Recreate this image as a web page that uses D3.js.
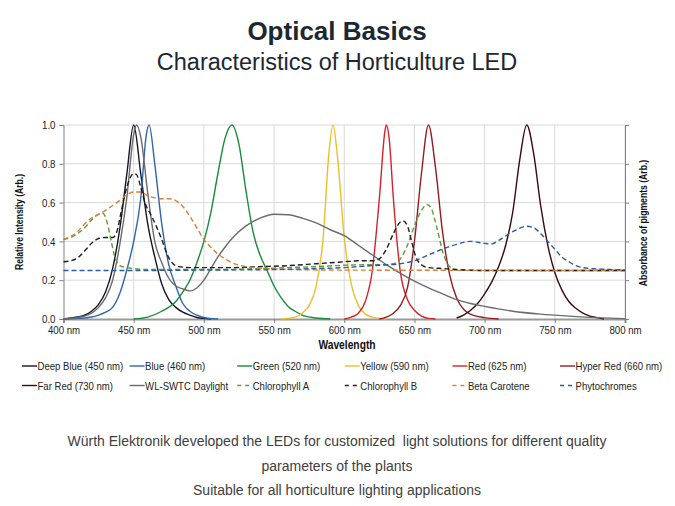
<!DOCTYPE html>
<html><head><meta charset="utf-8">
<script src="https://cdn.jsdelivr.net/npm/d3@7/dist/d3.min.js"></script>
<style>
body{margin:0;background:#fff;}
text{font-family:"Liberation Sans",Arial,sans-serif;}
</style></head><body>
<svg id="c" width="675" height="506"></svg>
<script>
// ---------- data ----------
const xTicks=[400,450,500,550,600,650,700,750,800];
const yTicks=[0,0.2,0.4,0.6,0.8,1.0];
const seriesNames=["Deep Blue (450 nm)","Blue (460 nm)","Green (520 nm)","Yellow (590 nm)","Red (625 nm)","Hyper Red (660 nm)","Far Red (730 nm)","WL-SWTC Daylight","Chlorophyll A","Chlorophyll B","Beta Carotene","Phytochromes"];
const deepBlue=[[400,0],[405,0.005],[410,0.01],[415,0.02],[420,0.04],[425,0.075],[430,0.14],[435,0.26],[440,0.46],[445,0.74],[450,1.0],[455,0.75],[460,0.49],[465,0.32],[470,0.18],[475,0.1],[480,0.06],[485,0.035],[490,0.02],[495,0.008],[500,0.003],[505,0]];
const blue=[[400,0],[410,0.003],[420,0.01],[425,0.02],[430,0.035],[435,0.06],[440,0.13],[445,0.25],[450,0.4],[455,0.62],[459,0.95],[461,1.0],[465,0.8],[470,0.49],[475,0.28],[480,0.17],[485,0.08],[490,0.04],[495,0.02],[500,0.008],[510,0]];
const green=[[450,0],[460,0.01],[470,0.04],[480,0.09],[485,0.14],[490,0.2],[495,0.29],[500,0.4],[505,0.55],[510,0.75],[515,0.93],[520,1.0],[525,0.9],[530,0.66],[535,0.45],[540,0.33],[545,0.25],[550,0.17],[555,0.11],[560,0.065],[565,0.04],[570,0.02],[580,0.005],[590,0]];
const yellow=[[555,0],[565,0.01],[570,0.03],[575,0.07],[580,0.17],[585,0.42],[589,0.85],[592,1.0],[595,0.85],[600,0.42],[605,0.18],[610,0.07],[615,0.025],[620,0.01],[630,0]];
const red=[[600,0],[605,0.01],[610,0.03],[615,0.09],[620,0.25],[625,0.62],[629,0.97],[630,1.0],[632,0.93],[635,0.62],[640,0.24],[645,0.1],[650,0.045],[655,0.015],[660,0.003],[665,0]];
const hyperRed=[[625,0],[630,0.01],[635,0.03],[640,0.07],[645,0.16],[650,0.4],[655,0.75],[660,1.0],[665,0.78],[670,0.45],[675,0.23],[680,0.11],[685,0.05],[690,0.025],[700,0.007],[710,0]];
const farRed=[[680,0.005],[685,0.02],[690,0.045],[695,0.08],[700,0.13],[705,0.19],[710,0.27],[715,0.38],[720,0.55],[725,0.82],[730,1.0],[735,0.85],[740,0.58],[745,0.38],[750,0.24],[755,0.15],[760,0.09],[765,0.055],[770,0.03],[775,0.015],[780,0.007],[785,0]];
const daylight=[[400,0],[410,0.008],[415,0.015],[420,0.03],[425,0.06],[430,0.11],[435,0.2],[440,0.38],[445,0.62],[450,0.95],[452,1.0],[455,0.94],[460,0.65],[465,0.4],[470,0.29],[475,0.21],[480,0.17],[485,0.155],[490,0.145],[495,0.16],[500,0.2],[505,0.26],[510,0.32],[515,0.37],[520,0.415],[530,0.48],[540,0.52],[550,0.54],[560,0.537],[570,0.52],[580,0.495],[590,0.46],[600,0.43],[610,0.38],[620,0.33],[630,0.28],[640,0.235],[650,0.195],[660,0.16],[670,0.13],[680,0.1],[690,0.08],[700,0.065],[720,0.04],[740,0.025],[760,0.015],[780,0.007],[800,0.002]];
const chlorophyllA=[[400,0.41],[405,0.42],[410,0.44],[415,0.47],[420,0.51],[425,0.54],[428,0.545],[431,0.5],[434,0.4],[437,0.31],[440,0.275],[445,0.265],[450,0.26],[460,0.255],[480,0.255],[500,0.255],[520,0.256],[540,0.26],[560,0.265],[580,0.27],[600,0.277],[620,0.28],[630,0.28],[635,0.285],[640,0.31],[645,0.38],[650,0.48],[655,0.56],[659,0.59],[662,0.57],[666,0.47],[670,0.35],[675,0.27],[680,0.252],[700,0.25],[800,0.25]];
const chlorophyllB=[[400,0.295],[405,0.3],[410,0.315],[415,0.35],[420,0.39],[425,0.415],[430,0.42],[435,0.42],[438,0.45],[441,0.55],[444,0.65],[447,0.72],[450,0.75],[452,0.745],[455,0.68],[458,0.6],[462,0.54],[466,0.48],[470,0.41],[474,0.33],[478,0.285],[482,0.27],[490,0.265],[500,0.265],[520,0.265],[540,0.27],[560,0.275],[580,0.285],[600,0.295],[610,0.3],[620,0.3],[625,0.31],[630,0.36],[635,0.44],[640,0.5],[642,0.505],[645,0.48],[648,0.4],[651,0.32],[655,0.28],[660,0.265],[670,0.26],[680,0.255],[700,0.25],[800,0.25]];
const betaCarotene=[[400,0.41],[405,0.425],[410,0.45],[415,0.49],[420,0.52],[425,0.54],[430,0.56],[435,0.585],[440,0.61],[445,0.64],[450,0.655],[455,0.655],[460,0.635],[465,0.625],[470,0.62],[475,0.62],[480,0.61],[485,0.58],[490,0.53],[495,0.47],[500,0.41],[505,0.37],[510,0.335],[515,0.31],[520,0.29],[530,0.27],[540,0.262],[550,0.258],[560,0.255],[600,0.252],[800,0.25]];
const phytochromes=[[400,0.25],[450,0.25],[500,0.252],[550,0.255],[580,0.26],[600,0.265],[620,0.275],[640,0.285],[650,0.3],[660,0.33],[670,0.36],[680,0.385],[690,0.4],[700,0.39],[705,0.387],[710,0.405],[720,0.45],[730,0.478],[735,0.47],[740,0.44],[745,0.4],[750,0.36],[755,0.32],[760,0.295],[765,0.275],[770,0.265],[780,0.258],[790,0.255],[800,0.253]];
const seriesData=[deepBlue,blue,green,yellow,red,hyperRed,farRed,daylight,chlorophyllA,chlorophyllB,betaCarotene,phytochromes];

// ---------- styles ----------
const seriesColors=["#15152a","#2f66ad","#178c3a","#ecc02a","#d2232c","#951c22","#3c0a0e","#6b6b6b","#5f9a3c","#1e1e1e","#d9803a","#2a5d9c"];
const seriesDashed=[false,false,false,false,false,false,false,false,true,true,true,true];

const svg=d3.select("#c");
const x=d3.scaleLinear().domain([400,800]).range([63.5,625]);
const y=d3.scaleLinear().domain([0,1]).range([319,125]);

// condense a text selection horizontally (Arial Narrow look)
function narrow(sel,f){
  f=f||0.82;
  sel.each(function(){
    const len=this.getComputedTextLength();
    d3.select(this).attr("textLength",len*f).attr("lengthAdjust","spacingAndGlyphs");
  });
}

// titles
svg.append("text").attr("x",337).attr("y",40).attr("text-anchor","middle")
  .attr("font-weight","bold").attr("font-size",26).attr("fill","#1d2731").text("Optical Basics");
svg.append("text").attr("x",337).attr("y",70).attr("text-anchor","middle")
  .attr("font-size",23.5).attr("fill","#1d2731").text("Characteristics of Horticulture LED");

// grid
const g=svg.append("g");
g.selectAll("line.gy").data(yTicks.filter(d=>d>0)).join("line")
  .attr("x1",x(400)).attr("x2",x(800)).attr("y1",d=>y(d)).attr("y2",d=>y(d))
  .attr("stroke","#d9d9d9").attr("stroke-width",1);
g.selectAll("line.gx").data(xTicks.filter(d=>d>400)).join("line")
  .attr("y1",y(0)).attr("y2",y(1)).attr("x1",d=>x(d)).attr("x2",d=>x(d))
  .attr("stroke","#d9d9d9").attr("stroke-width",1);

// axes
const axL=svg.append("g").attr("transform",`translate(${x(400)},0)`)
  .call(d3.axisLeft(y).tickValues(yTicks).tickFormat(d3.format(".1f")).tickSize(4).tickPadding(4));
const axB=svg.append("g").attr("transform",`translate(0,${y(0)})`)
  .call(d3.axisBottom(x).tickValues(xTicks).tickFormat(d=>d+" nm").tickSize(4).tickPadding(3));
const axR=svg.append("g").attr("transform",`translate(${x(800)},0)`)
  .call(d3.axisRight(y).tickValues(yTicks).tickFormat("").tickSize(4));
[axL,axB,axR].forEach(a=>{
  a.select(".domain").attr("stroke","#7f7f7f");
  a.selectAll(".tick line").attr("stroke","#7f7f7f");
  a.selectAll("text").attr("font-size",11.5).attr("fill","#222").attr("font-family",null).call(narrow,0.84);
});
axB.select(".domain").attr("stroke-width",2).attr("stroke","#999");

// axis titles
svg.append("text").attr("transform",`translate(23,222) rotate(-90)`)
  .attr("text-anchor","middle").attr("font-weight","bold").attr("font-size",10.5).attr("fill","#111").text("Relative Intensity (Arb.)").call(narrow);
svg.append("text").attr("transform",`translate(647,223) rotate(-90)`)
  .attr("text-anchor","middle").attr("font-weight","bold").attr("font-size",10.5).attr("fill","#111").text("Absorbance of pigments (Arb.)").call(narrow);
svg.append("text").attr("x",347).attr("y",349)
  .attr("text-anchor","middle").attr("font-weight","bold").attr("font-size",12.5).attr("fill","#111").text("Wavelength").call(narrow);

// lines
const line=d3.line().x(d=>x(d[0])).y(d=>y(d[1])).curve(d3.curveMonotoneX);
const lg=svg.append("g");
seriesData.forEach((s,i)=>{
  lg.append("path").attr("d",line(s)).attr("fill","none")
    .attr("stroke",seriesColors[i]).attr("stroke-width",1.4)
    .attr("stroke-dasharray",seriesDashed[i]?"5,3":null);
});

// legend
const leg=svg.append("g");
seriesNames.forEach((n,i)=>{
  const col=i%6, row=Math.floor(i/6);
  const lx=22+col*107.6, ly=366+row*19.5;
  leg.append("line").attr("x1",lx).attr("x2",lx+15).attr("y1",ly).attr("y2",ly)
    .attr("stroke",seriesColors[i]).attr("stroke-width",1.4)
    .attr("stroke-dasharray",seriesDashed[i]?"4,4":null);
  leg.append("text").attr("x",lx+15.5).attr("y",ly+4)
    .attr("font-size",11).attr("fill","#222").text(n).call(narrow,0.87);
});

// footer text
const foot=["Würth Elektronik developed the LEDs for customized\u00a0 light solutions for different quality","parameters of the plants","Suitable for all horticulture lighting applications"];
foot.forEach((t,i)=>{
  svg.append("text").attr("x",337).attr("y",446+i*24.5).attr("text-anchor","middle")
    .attr("font-size",14).attr("fill","#404040").text(t);
});
</script>
</body></html>
